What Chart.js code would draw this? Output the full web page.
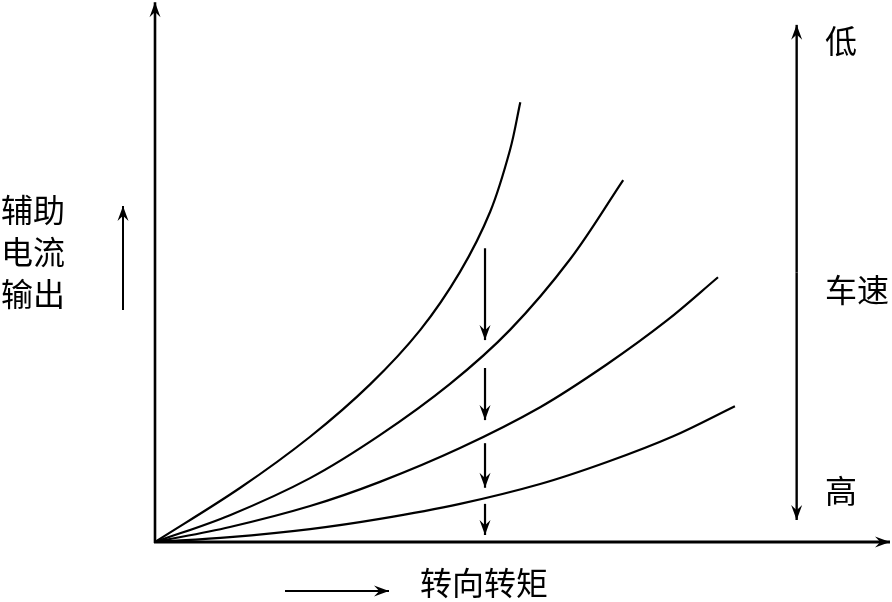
<!DOCTYPE html>
<html>
<head>
<meta charset="utf-8">
<script src="https://cdn.jsdelivr.net/npm/chart.js@4.4.1/dist/chart.umd.min.js"></script>
<style>
  html, body { margin: 0; padding: 0; background: #fff; }
</style>
</head>
<body>
<canvas id="chart" width="892" height="602"></canvas>
<script>
// assist current vs steering torque, one curve per vehicle speed (low -> high)
const torqueLow = [0, 11.6, 21.1, 29.3, 36.1, 41.5, 45.6, 48.3, 49.7];
const currentLow = [0, 10.1, 19.6, 29.4, 39.5, 50.3, 61.5, 73.0, 81.9];
const torqueMidLow = [0, 10.2, 21.1, 30.6, 40.1, 48.3, 56.5, 63.7];
const currentMidLow = [0, 5.0, 11.9, 19.9, 29.4, 39.5, 52.7, 67.4];
const torqueMidHigh = [0, 10.2, 21.1, 30.6, 41.5, 52.4, 61.5, 69.7, 76.6];
const currentMidHigh = [0, 2.8, 6.7, 11.2, 17.5, 25.1, 33.1, 41.3, 49.3];
const torqueHigh = [0, 10.2, 21.1, 30.6, 41.5, 52.4, 61.5, 70.5, 78.9];
const currentHigh = [0, 0.9, 2.4, 4.3, 7.1, 10.8, 14.9, 19.7, 25.3];

// downward arrows between curves (speed going up)
const shiftTorque = 44.9;
const shiftFrom = [54.7, 32.4, 18.4, 7.1];
const shiftTo = [37.6, 22.7, 10.1, 1.3];

// vehicle speed double arrow on the right
const speedTorque = 87.3;
const speedRange = [96.3, 4.1];

// texts
const yLabel = ['辅助', '电流', '输出'];
const xLabel = '转向转矩';
const speedLabels = ['低', '车速', '高'];

const toPoints = (xs, ys) => xs.map((x, i) => ({ x, y: ys[i] }));

const curve = (xs, ys) => ({
  data: toPoints(xs, ys),
  borderColor: '#000',
  borderWidth: 2.2,
  pointRadius: 0,
  fill: false,
  tension: 0.35,
  clip: false
});

function arrowHead(ctx, x, y, angle, len = 15, w = 5.5) {
  ctx.save();
  ctx.translate(x, y);
  ctx.rotate(angle);
  ctx.beginPath();
  ctx.moveTo(0, 0);
  ctx.lineTo(-len, -w);
  ctx.lineTo(-len * 0.65, 0);
  ctx.lineTo(-len, w);
  ctx.closePath();
  ctx.fill();
  ctx.restore();
}

function arrow(ctx, x1, y1, x2, y2, lw) {
  ctx.lineWidth = lw;
  ctx.beginPath();
  ctx.moveTo(x1, y1);
  ctx.lineTo(x2, y2);
  ctx.stroke();
  arrowHead(ctx, x2, y2, Math.atan2(y2 - y1, x2 - x1));
}

const decorations = {
  id: 'decorations',
  afterDatasetsDraw(chart) {
    const { ctx, scales: { x, y } } = chart;
    ctx.save();
    ctx.strokeStyle = '#000';
    ctx.fillStyle = '#000';

    // axes
    arrow(ctx, x.getPixelForValue(0) - 1, y.getPixelForValue(0), x.getPixelForValue(100), y.getPixelForValue(0), 3);
    arrow(ctx, x.getPixelForValue(0), y.getPixelForValue(0) + 1, x.getPixelForValue(0), y.getPixelForValue(100.5), 2.6);

    // shift arrows
    shiftFrom.forEach((v, i) => {
      const px = x.getPixelForValue(shiftTorque);
      arrow(ctx, px, y.getPixelForValue(v), px, y.getPixelForValue(shiftTo[i]), 2.2);
    });

    // speed double arrow
    const sx = x.getPixelForValue(speedTorque);
    const sTop = y.getPixelForValue(speedRange[0]);
    const sBot = y.getPixelForValue(speedRange[1]);
    arrow(ctx, sx, (sTop + sBot) / 2, sx, sTop, 2.4);
    arrow(ctx, sx, (sTop + sBot) / 2, sx, sBot, 2.4);

    // little direction arrows beside the labels
    arrow(ctx, 123, 310, 123, 206, 2);
    arrow(ctx, 285, 591, 389, 591, 2);

    // texts
    ctx.font = '32px "Noto Sans CJK SC"';
    ctx.textAlign = 'center';
    ctx.textBaseline = 'middle';
    yLabel.forEach((t, i) => ctx.fillText(t, 33, 210 + i * 42));
    ctx.fillText(xLabel, 484, 583);
    ctx.fillText(speedLabels[0], 841, 41);
    ctx.fillText(speedLabels[1], 857, 290);
    ctx.fillText(speedLabels[2], 841, 491);
    ctx.restore();
  }
};

new Chart(document.getElementById('chart').getContext('2d'), {
  type: 'line',
  data: {
    datasets: [
      curve(torqueLow, currentLow),
      curve(torqueMidLow, currentMidLow),
      curve(torqueMidHigh, currentMidHigh),
      curve(torqueHigh, currentHigh)
    ]
  },
  options: {
    responsive: false,
    animation: false,
    layout: { padding: { left: 155, right: 2, top: 5, bottom: 60 } },
    scales: {
      x: { type: 'linear', min: 0, max: 100, display: false },
      y: { type: 'linear', min: 0, max: 100, display: false }
    },
    plugins: { legend: { display: false }, tooltip: { enabled: false } }
  },
  plugins: [decorations]
});
</script>
</body>
</html>
